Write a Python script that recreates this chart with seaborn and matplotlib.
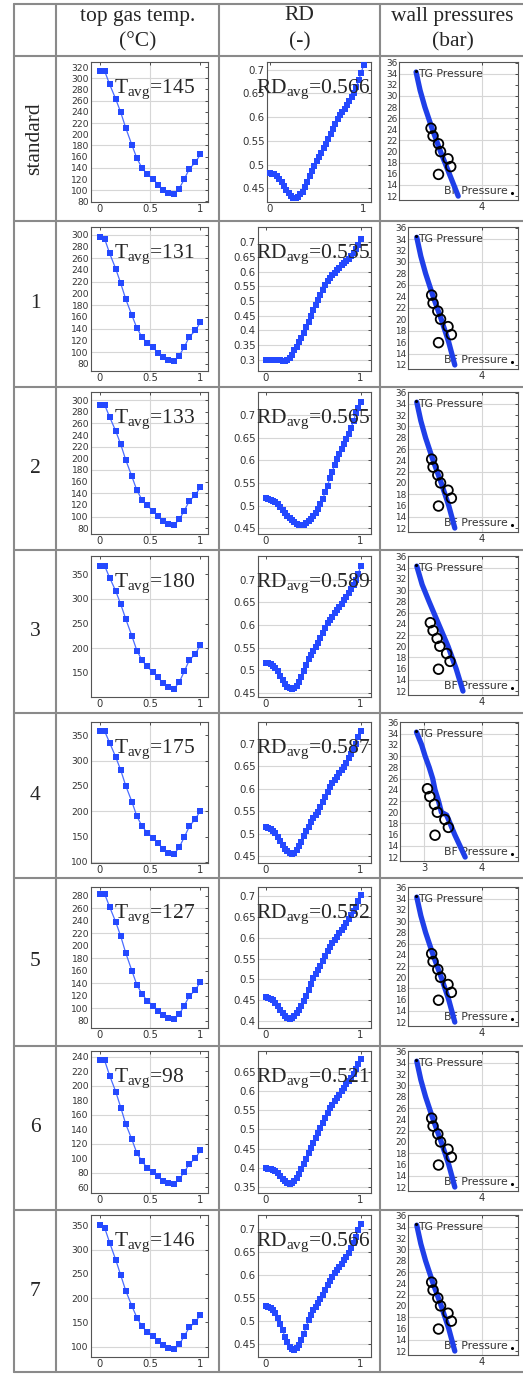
import matplotlib
matplotlib.use("Agg")
import matplotlib.pyplot as plt
import seaborn as sns
from matplotlib.lines import Line2D

sns.set_style("white")
plt.rcParams["font.family"] = ["DejaVu Sans"]
plt.rcParams["mathtext.fontset"] = "custom"
plt.rcParams["mathtext.rm"] = "Liberation Serif"
plt.rcParams["mathtext.it"] = "Liberation Serif:italic"

# ---------------- data ----------------
row_labels = ["standard", "1", "2", "3", "4", "5", "6", "7"]
col_headers = ["top gas temp.\n(°C)", "RD\n(-)", "wall pressures\n(bar)"]

t_x = [0, .05, .1, .16, .21, .26, .32, .37, .42, .47, .53, .58, .63, .68, .74, .79, .84, .89, .95, 1]
temp_std = [313, 313, 289, 263, 239, 211, 181, 157, 140, 129, 120, 110, 101, 95, 93, 103, 120, 138, 150, 164]
temp_1 = [296, 293, 268, 242, 217, 190, 163, 141, 126, 116, 108, 99, 91, 86, 85, 94, 109, 126, 137, 151]
temp_2 = [292, 292, 271, 247, 224, 197, 169, 145, 129, 119, 110, 101, 93, 87, 86, 95, 110, 127, 137, 151]
temp_3 = [367, 367, 343, 316, 289, 259, 225, 195, 176, 163, 151, 141, 129, 121, 118, 131, 153, 176, 188, 207]
temp_4 = [358, 358, 335, 307, 281, 250, 219, 190, 171, 158, 148, 137, 126, 118, 116, 129, 149, 170, 185, 201]
temp_5 = [283, 283, 262, 238, 215, 188, 160, 137, 123, 112, 104, 96, 89, 84, 82, 90, 104, 119, 129, 142]
temp_6 = [235, 235, 214, 192, 170, 147, 126, 107, 96, 87, 81, 75, 69, 66, 65, 71, 81, 92, 100, 111]
temp_7 = [350, 345, 314, 279, 247, 215, 184, 160, 142, 131, 122, 112, 103, 97, 95, 105, 122, 140, 151, 166]
temps = [temp_std, temp_1, temp_2, temp_3, temp_4, temp_5, temp_6, temp_7]

rd_x = [0, .025, .05, .075, .1, .125, .15, .175, .2, .225, .25, .275, .3, .325, .35, .375, .4, .425,
        .45, .475, .5, .525, .55, .575, .6, .625, .65, .675, .7, .725, .75, .775, .8, .825, .85, .875,
        .9, .925, .95, .975, 1]
rd_std = [.482, .481, .479, .476, .470, .463, .455, .446, .439, .433, .430, .430, .432, .437, .443, .453,
          .464, .475, .486, .497, .507, .516, .525, .534, .543, .553, .564, .575, .586, .595, .604, .611,
          .618, .626, .634, .642, .651, .663, .679, .693, .709]
rd_1 = [.300, .300, .300, .300, .300, .299, .298, .297, .297, .300, .307, .318, .332, .345, .360, .375,
        .392, .411, .430, .450, .469, .487, .504, .521, .537, .553, .567, .579, .589, .597, .605, .613,
        .621, .628, .635, .644, .654, .664, .677, .692, .712]
rd_2 = [.516, .515, .513, .511, .508, .503, .497, .490, .483, .477, .472, .467, .463, .460, .458, .457,
        .458, .461, .465, .470, .477, .484, .493, .503, .515, .529, .544, .560, .575, .589, .602, .614,
        .625, .636, .647, .659, .672, .687, .704, .716, .729]
rd_3 = [.517, .515, .513, .510, .506, .498, .488, .479, .470, .464, .461, .459, .460, .465, .473, .485,
        .499, .512, .524, .533, .542, .551, .560, .571, .582, .593, .604, .611, .618, .626, .633, .640,
        .647, .655, .662, .671, .680, .689, .698, .712, .729]
rd_4 = [.515, .513, .511, .507, .501, .493, .483, .475, .467, .461, .457, .456, .457, .464, .472, .482,
        .494, .505, .516, .526, .535, .542, .549, .560, .571, .582, .593, .603, .612, .619, .626, .634,
        .641, .648, .656, .667, .678, .689, .700, .714, .729]
rd_5 = [.457, .456, .454, .450, .444, .436, .428, .420, .412, .408, .406, .407, .412, .419, .428, .437,
        .448, .461, .475, .489, .503, .513, .523, .533, .543, .555, .567, .577, .587, .595, .602, .610,
        .618, .626, .634, .644, .654, .664, .674, .688, .702]
rd_6 = [.399, .398, .396, .394, .391, .385, .378, .371, .365, .360, .358, .359, .365, .373, .383, .396,
        .409, .424, .439, .452, .465, .478, .491, .504, .517, .531, .544, .555, .565, .574, .583, .591,
        .600, .609, .618, .626, .635, .646, .657, .670, .683]
rd_7 = [.532, .530, .527, .523, .518, .507, .494, .480, .465, .453, .443, .438, .437, .440, .447, .458,
        .472, .487, .501, .513, .523, .531, .538, .547, .556, .567, .578, .587, .596, .604, .611, .618,
        .625, .632, .640, .649, .658, .670, .684, .698, .712]
rds = [rd_std, rd_1, rd_2, rd_3, rd_4, rd_5, rd_6, rd_7]

t_avg = [145, 131, 133, 180, 175, 127, 98, 146]
rd_avg = ["0.566", "0.535", "0.565", "0.589", "0.587", "0.552", "0.521", "0.566"]

temp_ticks = [
    [80, 100, 120, 140, 160, 180, 200, 220, 240, 260, 280, 300, 320],
    [80, 100, 120, 140, 160, 180, 200, 220, 240, 260, 280, 300],
    [80, 100, 120, 140, 160, 180, 200, 220, 240, 260, 280, 300],
    [150, 200, 250, 300, 350],
    [100, 150, 200, 250, 300, 350],
    [80, 100, 120, 140, 160, 180, 200, 220, 240, 260, 280],
    [60, 80, 100, 120, 140, 160, 180, 200, 220, 240],
    [100, 150, 200, 250, 300, 350],
]
temp_ylims = [(79, 329), (68, 313), (70, 314), (101, 387), (98, 376), (68, 294), (52, 248), (79, 371)]
rd_ticks = [
    [0.45, 0.5, 0.55, 0.6, 0.65, 0.7],
    [0.3, 0.35, 0.4, 0.45, 0.5, 0.55, 0.6, 0.65, 0.7],
    [0.45, 0.5, 0.55, 0.6, 0.65, 0.7],
    [0.45, 0.5, 0.55, 0.6, 0.65, 0.7],
    [0.45, 0.5, 0.55, 0.6, 0.65, 0.7],
    [0.4, 0.45, 0.5, 0.55, 0.6, 0.65, 0.7],
    [0.35, 0.4, 0.45, 0.5, 0.55, 0.6, 0.65],
    [0.45, 0.5, 0.55, 0.6, 0.65, 0.7],
]
rd_ylims = [(0.421, 0.716), (0.262, 0.752), (0.437, 0.751), (0.441, 0.752), (0.435, 0.748),
            (0.384, 0.721), (0.334, 0.705), (0.421, 0.731)]

p_ticks = [12, 14, 16, 18, 20, 22, 24, 26, 28, 30, 32, 34, 36]
p_xticks = [[4], [4], [4], [4], [3, 4], [4], [4], [4]]
p_line_y_common = [34.3, 31, 28, 24, 20, 16, 12]
p_line_y_4 = [34.3, 32, 30, 28, 26, 24, 22, 20, 19.5, 18, 16, 14, 12]
p_line_x_std = [2.863, 2.933, 3.015, 3.144, 3.285, 3.437, 3.590]
p_line_x_a = [2.875, 2.945, 3.027, 3.156, 3.297, 3.426, 3.531]
p_line_x_3 = [2.875, 2.968, 3.086, 3.250, 3.414, 3.554, 3.672]
p_line_x_4 = [2.87, 2.96, 3.02, 3.09, 3.15, 3.19, 3.25, 3.30, 3.39, 3.45, 3.53, 3.62, 3.71]
p_lines = [(p_line_x_std, p_line_y_common), (p_line_x_a, p_line_y_common), (p_line_x_a, p_line_y_common),
           (p_line_x_3, p_line_y_common), (p_line_x_4, p_line_y_4), (p_line_x_a, p_line_y_common),
           (p_line_x_a, p_line_y_common), (p_line_x_a, p_line_y_common)]
meas_y = [24.2, 22.8, 21.4, 20.0, 18.7, 17.3, 15.9]
meas_x_std = [3.121, 3.156, 3.250, 3.285, 3.414, 3.461, 3.250]
meas_x_a = [3.132, 3.156, 3.238, 3.285, 3.414, 3.472, 3.250]
meas_x_3 = [3.109, 3.156, 3.226, 3.273, 3.390, 3.449, 3.250]
meas_x_4 = [3.06, 3.10, 3.18, 3.23, 3.36, 3.42, 3.19]
meas_xs = [meas_x_std, meas_x_a, meas_x_a, meas_x_3, meas_x_4, meas_x_a, meas_x_a, meas_x_a]
tg_point = (2.87, 34.5)
bf_point = (4.51, 12.5)

# ---------------- layout (pixels) ----------------
W, H = 523, 1374
fig = plt.figure(figsize=(W / 100, H / 100), dpi=100)

def add_ax(x0, y0, x1, y1):
    return fig.add_axes([x0 / W, 1 - y1 / H, (x1 - x0) / W, (y1 - y0) / H])

row_lines = [4, 56, 221, 387, 550, 713, 878, 1046, 1210, 1372]
col_lines = [14, 56, 219, 380]
axes_rows = [(62, 202), (227, 371), (392, 534), (556, 697), (722, 863), (887, 1028), (1051, 1193), (1215, 1357)]
p_left = [399, 408, 408, 408, 400, 408, 408, 408]
P_RIGHT = 518
P_SCALE = 58.0  # px per bar-unit on x
P_X4 = 482      # pixel of x=4

BLUE = "#2449ff"
LBLUE = "#4a6cff"
PBLUE = "#1f3fe8"
GRID = "#d6d6d6"
SERIF = "Liberation Serif"

def style_axes(ax):
    for s in ax.spines.values():
        s.set_color("#555555")
        s.set_linewidth(0.8)
    ax.tick_params(direction="in", length=2.5, width=0.6, labelsize=6.6, colors="#333333",
                   top=True, right=True, pad=1.5)
    ax.set_xlabel("")
    ax.set_ylabel("")

def fmt(v):
    return f"{v:g}"

for i in range(8):
    top, bot = axes_rows[i]
    # ---- temperature ----
    ax = add_ax(91, top, 208, bot)
    lo, hi = temp_ylims[i]
    ticks = temp_ticks[i]
    step = ticks[1] - ticks[0]
    for k, v in enumerate(ticks):
        if (step == 20 and k % 2 == 1) or (step == 50 and v % 100 == 0):
            ax.axhline(v, color=GRID, lw=0.8, zorder=0)
    ax.axvline(0.5, color=GRID, lw=0.8, zorder=0)
    sns.lineplot(x=t_x, y=temps[i], ax=ax, color=LBLUE, lw=0.9, marker="s", markersize=4.0,
                 markerfacecolor=BLUE, markeredgewidth=0, zorder=3)
    ax.set_xlim(-0.085, 1.075)
    ax.set_ylim(lo, hi)
    ax.set_yticks(ticks)
    ax.set_yticklabels([fmt(v) for v in ticks])
    ax.set_xticks([0, 0.5, 1])
    ax.set_xticklabels(["0", "0.5", "1"])
    style_axes(ax)
    ax.tick_params(axis="x", labelsize=7.2)

    # ---- RD ----
    x0 = 267 if i == 0 else 258
    ax = add_ax(x0, top, 371, bot)
    for v in rd_ticks[i]:
        ax.axhline(v, color=GRID, lw=0.8, zorder=0)
    sns.lineplot(x=rd_x, y=rds[i], ax=ax, color=LBLUE, lw=0.9, marker="s", markersize=4.0,
                 markerfacecolor=BLUE, markeredgewidth=0, zorder=3)
    ax.set_xlim(-0.03 if i == 0 else -0.085, 1.08 if i == 0 else 1.11)
    ax.set_ylim(*rd_ylims[i])
    ax.set_yticks(rd_ticks[i])
    ax.set_yticklabels([fmt(v) for v in rd_ticks[i]])
    ax.set_xticks([0, 1])
    ax.set_xticklabels(["0", "1"])
    style_axes(ax)
    ax.tick_params(axis="y", labelsize=7.4)
    ax.tick_params(axis="x", labelsize=7.4)

    # ---- pressure ----
    pl = p_left[i]
    ax = add_ax(pl, top, P_RIGHT, bot - 2)
    for v in [14, 18, 22, 26, 30, 34]:
        ax.axhline(v, color=GRID, lw=0.8, zorder=0)
    for v in p_xticks[i]:
        ax.axvline(v, color=GRID, lw=0.8, zorder=0)
    ax.text(2.90, 34.0, "TG Pressure", fontsize=7.8, color="#333333", va="center", ha="left", zorder=1)
    ax.text(4.44, 12.9, "BF Pressure", fontsize=7.8, color="#333333", va="center", ha="right", zorder=1)
    lx, ly = p_lines[i]
    sns.lineplot(x=lx, y=ly, ax=ax, sort=False, estimator=None, color=PBLUE, lw=3.8, zorder=3)
    sns.scatterplot(x=meas_xs[i], y=meas_y, ax=ax, s=48, facecolors="none", edgecolor="black",
                    linewidth=1.3, zorder=4)
    sns.scatterplot(x=[tg_point[0], bf_point[0]], y=[tg_point[1], bf_point[1]], ax=ax, s=5,
                    color="black", linewidth=0, zorder=5)
    ax.set_xlim(4 - (P_X4 - pl) / P_SCALE, 4 + (P_RIGHT - P_X4) / P_SCALE)
    ax.set_ylim(11.3, 36.1)
    ax.set_yticks(p_ticks)
    ax.set_yticklabels([str(v) for v in p_ticks])
    ax.set_xticks(p_xticks[i])
    ax.set_xticklabels([str(v) for v in p_xticks[i]])
    style_axes(ax)
    ax.tick_params(axis="y", labelsize=6.4, pad=1)
    ax.tick_params(axis="x", labelsize=7.2)

    # ---- annotations ----
    yc = 1 - (top + 27) / H
    fig.text(114 / W, yc, r"T$_{\rm avg}$=" + str(t_avg[i]), family=SERIF, fontsize=15.5,
             va="center", ha="left", zorder=10)
    fig.text(256 / W, yc, r"RD$_{\rm avg}$=" + rd_avg[i], family=SERIF, fontsize=15.5,
             va="center", ha="left", zorder=10)

    # ---- row label ----
    yl = 1 - ((row_lines[i + 1] + row_lines[i + 2]) / 2) / H
    if i == 0:
        fig.text(35 / W, yl, row_labels[i], family=SERIF, fontsize=15.5, rotation=90,
                 va="center", ha="center")
    else:
        fig.text(35 / W, yl, row_labels[i], family=SERIF, fontsize=15.5, va="center", ha="center")

# headers
centers = [(56 + 219) / 2, (219 + 380) / 2, (380 + 523) / 2 + 1]
for c, h in zip(centers, col_headers):
    l1, l2 = h.split("\n")
    fig.text(c / W, 1 - 16 / H, l1, family=SERIF, fontsize=15.5, va="center", ha="center")
    fig.text(c / W, 1 - 42 / H, l2, family=SERIF, fontsize=15.5, va="center", ha="center")

# table lines
LC = "#8a8a8a"
for y in row_lines:
    fig.add_artist(Line2D([14 / W, 1.0], [1 - y / H, 1 - y / H], color=LC, lw=1.5))
for x in col_lines:
    fig.add_artist(Line2D([x / W, x / W], [1 - 4 / H, 1 - 1372 / H], color=LC, lw=1.5))

fig.savefig("out.png", dpi=100)
